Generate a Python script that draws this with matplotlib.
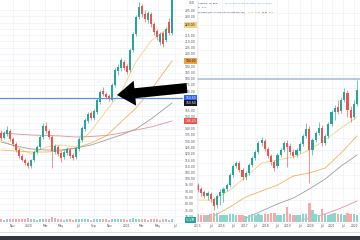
import matplotlib
matplotlib.use("Agg")
import matplotlib.pyplot as plt
from matplotlib.patches import FancyArrow, Rectangle
import numpy as np

UP = "#26a69a"
DOWN = "#ef5350"

# ---- left chart (zoomed in, later period) ----
left_open = [136.6, 132.6, 135.8, 138.2, 131.8, 127.8, 123.0, 118.2, 115.0, 112.6,
             110.2, 115.0, 121.4, 125.4, 133.4, 142.2, 138.2, 133.4, 121.4, 125.4,
             120.6, 117.4, 120.6, 123.0, 119.0, 117.4, 123.8, 131.0, 139.8, 146.2,
             152.6, 148.6, 153.4, 161.4, 170.2, 167.8, 166.2, 163.0, 175.0, 186.2,
             188.6, 193.4, 190.2, 187.0, 203.0, 215.8, 229.4, 238.2, 231.8, 227.0,
             231.8, 223.8, 218.2, 209.4, 216.6, 211.0, 225.4, 216.6]
left_close = [132.6, 136.6, 139.0, 131.8, 127.8, 123.0, 118.2, 115.0, 112.6, 110.2,
              115.0, 121.4, 125.4, 133.4, 142.2, 138.2, 133.4, 122.2, 126.2, 119.8,
              116.6, 121.4, 123.8, 118.2, 116.6, 124.6, 131.8, 140.6, 147.0, 151.8,
              148.6, 154.2, 163.0, 169.4, 167.8, 165.4, 163.8, 175.0, 187.0, 189.4,
              195.0, 188.6, 185.4, 203.0, 215.8, 229.4, 237.4, 231.8, 227.8, 232.6,
              223.8, 217.4, 213.4, 215.8, 207.8, 219.8, 216.6, 243.0]
left_high = [139.0, 138.2, 142.2, 139.8, 133.4, 129.4, 124.6, 119.8, 116.6, 114.2,
             115.8, 123.0, 127.0, 135.0, 144.6, 145.4, 139.8, 135.0, 127.8, 127.0,
             122.2, 123.0, 125.4, 124.6, 120.6, 125.4, 133.4, 142.2, 148.6, 153.4,
             154.2, 155.8, 164.6, 171.0, 173.4, 169.4, 167.8, 176.6, 188.6, 191.8,
             196.6, 195.0, 191.8, 204.6, 217.4, 231.0, 241.4, 239.8, 235.0, 234.2,
             233.4, 225.4, 219.8, 217.4, 218.2, 221.4, 228.6, 243.0]
left_low = [131.0, 131.8, 134.2, 130.2, 126.2, 121.4, 116.6, 114.2, 111.0, 108.6,
            108.6, 113.4, 119.8, 123.8, 131.8, 136.6, 131.8, 108.6, 119.8, 118.2,
            113.4, 115.8, 119.0, 116.6, 115.0, 115.8, 122.2, 129.4, 138.2, 144.6,
            147.0, 147.0, 151.8, 159.8, 166.2, 163.8, 162.2, 162.2, 173.4, 183.0,
            186.2, 187.0, 183.8, 185.4, 201.4, 214.2, 227.8, 229.4, 225.4, 224.6,
            221.4, 215.0, 211.0, 207.0, 205.4, 209.4, 215.0, 215.0]
left_vol = [1.8, 1.6, 2.0, 1.7, 1.9, 2.2, 2.0, 1.8, 2.1, 2.4,
            1.9, 1.7, 1.6, 2.0, 2.2, 1.8, 2.0, 3.3, 2.4, 1.9,
            1.7, 1.6, 1.8, 1.7, 1.6, 1.9, 2.1, 2.0, 1.8, 1.7,
            1.6, 1.8, 2.2, 2.0, 1.9, 1.7, 1.6, 2.3, 2.1, 1.8,
            1.9, 1.7, 1.6, 2.2, 2.4, 2.0, 1.9, 1.8, 1.7, 1.6,
            1.8, 1.9, 1.7, 1.6, 1.8, 1.7, 1.6, 2.2]
left_ma_idx = [0, 5, 10, 15, 20, 25, 30, 35, 40, 45, 50, 57]
left_ma20 = [131.0, 125.4, 119.8, 125.4, 127.0, 125.4, 138.2, 154.2, 169.4, 193.4, 210.2, 223.0]
left_ma50 = [123.0, 122.2, 121.4, 121.4, 122.2, 124.6, 128.6, 134.2, 145.4, 156.6, 171.0, 194.2]
left_ma100 = [129.4, 126.2, 123.8, 123.0, 123.0, 124.6, 127.0, 131.0, 135.0, 139.8, 147.8, 160.6]
left_ma200 = [136.6, 135.8, 135.0, 134.6, 134.2, 133.4, 133.8, 134.6, 136.6, 139.0, 141.4, 146.2]
left_level = 164.6
left_dates = ["Nov", "2020", "Mar", "May", "Jul", "Sep", "Nov", "2021", "Mar", "May", "Jul"]
left_date_pos = [4, 9.3, 14.7, 20, 25.7, 31, 36.3, 42, 47, 52.3, 58]
left_vol_label = "5.12M"

# ---- right chart (long history) ----
right_open = [82.0, 78.8, 76.4, 73.2, 74.8, 70.8, 66.0, 73.2, 75.6, 78.8,
              82.0, 90.0, 97.2, 99.6, 94.0, 88.4, 91.6, 98.0, 103.6, 108.4,
              115.6, 117.2, 110.8, 105.2, 100.4, 97.2, 106.0, 110.0, 115.6, 113.2,
              108.4, 106.0, 109.2, 114.8, 121.2, 126.8, 110.0, 118.0, 123.6, 127.6,
              115.6, 121.2, 130.8, 140.4, 144.4, 141.2, 150.0, 155.6, 142.0, 136.4,
              146.8]
right_close = [78.0, 75.6, 73.2, 75.6, 70.8, 65.2, 73.2, 76.4, 78.8, 82.0,
               90.0, 97.2, 99.6, 94.0, 88.4, 91.6, 98.0, 103.6, 108.4, 115.6,
               118.0, 110.8, 105.2, 100.4, 95.6, 106.0, 110.0, 115.6, 112.4, 108.4,
               105.2, 110.0, 114.8, 121.2, 126.8, 110.0, 118.0, 123.6, 127.6, 115.6,
               121.2, 130.8, 140.4, 143.6, 140.4, 150.0, 156.4, 142.0, 135.6, 146.8,
               158.0]
right_high = [83.6, 80.4, 78.0, 77.2, 76.4, 72.4, 74.8, 78.8, 80.4, 83.6,
              91.6, 98.8, 101.2, 101.2, 95.6, 93.2, 99.6, 105.2, 110.0, 117.2,
              120.4, 118.8, 112.4, 106.8, 102.0, 107.6, 111.6, 117.2, 118.0, 115.6,
              110.8, 111.6, 116.4, 122.8, 131.6, 129.2, 119.6, 125.2, 132.4, 130.0,
              122.8, 132.4, 142.0, 146.0, 150.0, 152.4, 159.6, 158.0, 145.2, 150.0,
              166.0]
right_low = [76.4, 73.2, 71.6, 70.0, 68.4, 62.0, 63.6, 66.0, 68.4, 77.2,
             80.4, 88.4, 95.6, 92.4, 86.0, 86.0, 90.0, 96.4, 102.0, 106.8,
             113.2, 109.2, 103.6, 98.0, 93.2, 95.6, 104.4, 108.4, 96.4, 106.0,
             103.6, 104.4, 107.6, 113.2, 119.6, 83.6, 106.0, 116.4, 122.0, 113.2,
             114.0, 119.6, 129.2, 134.0, 138.8, 139.6, 148.4, 136.4, 132.4, 134.8,
             145.2]
right_vol = [5.5, 5.0, 4.8, 4.5, 5.2, 5.8, 6.0, 5.0, 4.6, 4.8,
             5.3, 5.6, 4.9, 4.4, 5.0, 4.2, 4.6, 5.4, 5.0, 5.6,
             4.8, 5.2, 5.5, 5.8, 6.2, 4.9, 4.6, 5.1, 10.0, 5.5,
             4.8, 4.6, 4.9, 5.2, 5.6, 13.0, 8.0, 5.4, 5.0, 8.5,
             5.2, 4.8, 5.6, 6.0, 5.5, 5.2, 5.0, 5.8, 5.4, 5.1,
             4.6]
right_ma20_idx = [0, 5, 10, 15, 20, 25, 30, 35, 40, 45, 50]
right_ma20 = [70.0, 70.0, 78.0, 88.4, 99.6, 102.0, 104.4, 110.0, 118.0, 127.6, 136.4]
right_ma50_idx = [5, 10, 15, 20, 25, 30, 35, 40, 45, 50]
right_ma50 = [57.2, 64.4, 72.4, 77.2, 82.0, 89.2, 91.6, 95.6, 107.6, 121.2]
right_ma100_idx = [13, 20, 25, 30, 35, 40, 45, 50]
right_ma100 = [53.2, 61.2, 66.8, 71.6, 78.8, 86.8, 97.2, 106.0]
right_ma200_idx = [30, 35, 40, 45, 50]
right_ma200 = [52.4, 55.6, 58.8, 63.6, 69.2]
right_level = 166.8
right_dates = ["2015", "Jul", "2016", "Jul", "2017", "Jul", "2018", "Jul",
               "2019", "Jul", "2020", "Jul", "2021", "Jul", "2022"]
right_date_pos = [0, 4.1, 7.5, 11, 14.5, 17.9, 21.4, 24.8, 28.3, 32.1, 35.5, 39, 42.1, 45.6, 49.1]

MA_COLORS = ["#f6d27a", "#f3b25a", "#9e9e9e", "#ec8f8f"]

W, H = 360.0, 240.0
fig = plt.figure(figsize=(3.6, 2.4), dpi=100)
fig.patch.set_facecolor("white")


def box(x0, y0, x1, y1):
    # pixel box measured from the top left corner
    return [x0 / W, 1 - y1 / H, (x1 - x0) / W, (y1 - y0) / H]


def candles(ax, o, c, h, l):
    x = np.arange(len(o))
    cols = [UP if c[i] >= o[i] else DOWN for i in range(len(o))]
    ax.vlines(x, l, h, colors=cols, lw=0.45, zorder=3)
    bottoms = np.minimum(o, c)
    heights = np.maximum(np.abs(np.array(c) - np.array(o)), 0.4)
    ax.bar(x, heights, bottom=bottoms, width=0.68, color=cols, lw=0, zorder=4)


def volume(ax, o, c, v):
    cols = ["#8ed3cc" if c[i] >= o[i] else "#f5aaa8" for i in range(len(o))]
    ax.bar(np.arange(len(v)), v, width=0.8, color=cols, lw=0)
    ax.set_ylim(0, 20)
    ax.set_axis_off()


def style(ax):
    for s in ax.spines.values():
        s.set_visible(False)
    ax.set_axisbelow(True)
    ax.grid(True, color="#f0f2f7", lw=0.5)
    ax.tick_params(length=0, labelsize=2.2, colors="#50535e")


# left chart
axL = fig.add_axes(box(0, 0, 183, 222))
axLv = fig.add_axes(box(0, 192, 183, 222))
style(axL)
candles(axL, left_open, left_close, left_high, left_low)
for vals, col in zip([left_ma20, left_ma50, left_ma100, left_ma200], MA_COLORS):
    axL.plot(left_ma_idx, vals, color=col, lw=0.6, zorder=2)
axL.axhline(left_level, color="#5b8def", lw=0.9, zorder=5)
axL.set_xlim(-1 / 3, -1 / 3 + 61)
axL.set_ylim(243 - 0.8 * 222, 243)
axL.yaxis.tick_right()

# coloured price labels on the left price scale
marks = [(left_ma20[-1], MA_COLORS[0], "#131722"),
         (left_ma50[-1], "#f0a040", "#131722"),
         (left_level, "#2962ff", "white"),
         (left_ma100[-1], "#131722", "white"),
         (left_ma200[-1], DOWN, "white")]

yt = np.arange(70, 240, 5)
axL.set_yticks(yt)
# like the price scale, hide plain labels hidden under a coloured one
axL.set_yticklabels(["" if min(abs(t - m[0]) for m in marks) < 3.6 else "%.2f" % t
                     for t in yt])
axL.tick_params(axis="y", pad=1.0)
axL.set_xticks(left_date_pos)
axL.set_xticklabels(left_dates)
axL.tick_params(axis="x", pad=1.6)
volume(axLv, left_open, left_close, left_vol)
axLv.set_xlim(axL.get_xlim())

lbl = axL.get_yaxis_transform()
for val, bg, fg in marks:
    axL.text(1.012, val, "%.2f" % val, transform=lbl, fontsize=2.2, color=fg,
             va="center", ha="left", zorder=6,
             bbox=dict(boxstyle="square,pad=0.25", fc=bg, ec="none"))
axL.text(1.03, 241, "USD", transform=lbl, fontsize=2.0, color="#50535e", va="center")

# right chart
axR = fig.add_axes(box(197, 0, 360, 222))
axRv = fig.add_axes(box(197, 192, 360, 222))
style(axR)
candles(axR, right_open, right_close, right_high, right_low)
axR.plot(right_ma20_idx, right_ma20, color=MA_COLORS[0], lw=0.6, zorder=2)
axR.plot(right_ma50_idx, right_ma50, color=MA_COLORS[1], lw=0.6, zorder=2)
axR.plot(right_ma100_idx, right_ma100, color=MA_COLORS[2], lw=0.6, zorder=2)
axR.plot(right_ma200_idx, right_ma200, color=MA_COLORS[3], lw=0.6, zorder=2)
axR.axhline(right_level, color="#a9bfe6", lw=1.2, zorder=5)
axR.set_xlim(-0.314, -0.314 + 163 / 3.18)
axR.set_ylim(230 - 0.8 * 222, 230)
axR.set_yticks(np.arange(60, 230, 10))
axR.tick_params(axis="y", labelleft=False, labelright=False)
axR.set_xticks(right_date_pos)
axR.set_xticklabels(right_dates)
axR.tick_params(axis="x", pad=1.2)
volume(axRv, right_open, right_close, right_vol)
axRv.set_xlim(axR.get_xlim())

# legend of the right chart (tiny, three rows)
t = axR.transAxes
fs = 1.3
axR.text(0.006, 0.988, "Albemarle · 1M · NYSE", transform=t,
         fontsize=fs, color="#131722", va="top")
axR.text(0.17, 0.988, "O146.80 H166.00 L145.20 C158.00 +11.20 (+7.63%)", transform=t,
         fontsize=fs, color=UP, va="top")
axR.text(0.006, 0.968, "Vol", transform=t, fontsize=fs, color="#131722", va="top")
axR.text(0.03, 0.968, "5.10M", transform=t, fontsize=fs, color=UP, va="top")
axR.text(0.006, 0.948, "MA Ribbon (SMA, 20, close, SMA, 50, close, SMA, 100)",
         transform=t, fontsize=fs, color="#131722", va="top")
for k, (val, col) in enumerate(zip([right_ma20[-1], right_ma50[-1], right_ma100[-1], right_ma200[-1]],
                                   ["#e0b000", "#f08c00", "#131722", DOWN])):
    axR.text(0.315 + 0.042 * k, 0.948, "%.2f" % val, transform=t, fontsize=fs,
             color=col, va="top")

# overlay: arrow, borders, browser bar
ov = fig.add_axes([0, 0, 1, 1])
ov.set_xlim(0, W)
ov.set_ylim(H, 0)
ov.set_axis_off()
ov.add_patch(FancyArrow(187, 88, -70, 7, width=10, head_width=25, head_length=18,
                        length_includes_head=True, color="black", lw=0))
ov.plot([197, 197], [0, 232], color="#e6e8ee", lw=0.5)
ov.plot([0, W], [222.5, 222.5], color="#eceef2", lw=0.4)
ov.plot([0, W], [231.5, 231.5], color="#d9dbe0", lw=0.6)
ov.text(186, 220, left_vol_label, fontsize=2.2, color="white", va="center",
        bbox=dict(boxstyle="square,pad=0.25", fc=UP, ec="none"))
ov.add_patch(Rectangle((0, 236), W, 4, color="#34373d", lw=0))

fig.savefig("out.png", dpi=100, facecolor="white")
